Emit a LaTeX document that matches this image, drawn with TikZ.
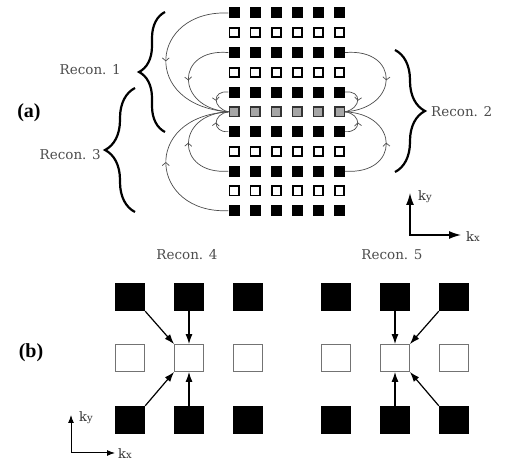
\documentclass[tikz,border=0pt]{standalone}
\usepackage{fontspec}
\newfontfamily\labelfont{DejaVu Serif}
\newfontfamily\tagfont{Liberation Serif}
\usetikzlibrary{arrows.meta}
\usetikzlibrary{decorations.markings,decorations.pathreplacing}
\tikzstyle{blacksq}=[rectangle,fill=black,minimum size=11pt,inner sep=0pt]
\tikzstyle{opensq}=[rectangle,draw=black,fill=white,line width=1.8pt,minimum size=9.2pt,inner sep=0pt]
\tikzstyle{graysq}=[rectangle,draw=black!80,fill=black!35,line width=1.5pt,minimum size=9.5pt,inner sep=0pt]
\tikzstyle{bigblack}=[rectangle,fill=black,minimum width=30pt,minimum height=28pt,inner sep=0pt]
\tikzstyle{bigopen}=[rectangle,draw=black!55,fill=white,line width=0.8pt,minimum width=29pt,minimum height=27pt,inner sep=0pt]
\tikzstyle{flow}=[draw=black!70,line width=0.7pt,postaction={decorate},decoration={markings,mark=at position 0.5 with {\arrow{Straight Barb[length=3pt,width=7pt]}}}]
\tikzstyle{bracket}=[decorate,line width=2.2pt]
\tikzstyle{recon}=[font=\labelfont\fontsize{13.5}{15}\selectfont,text=black!70,inner sep=0pt]
\tikzstyle{klabel}=[font=\labelfont\fontsize{13}{15}\selectfont,text=black!80,inner sep=0pt]
\tikzstyle{tag}=[font=\tagfont\bfseries\fontsize{20}{22}\selectfont,inner sep=0pt]
\tikzstyle{pointer}=[-{Latex[length=10pt,width=7pt]},line width=1.2pt]
\begin{document}
\begin{tikzpicture}[x=1pt,y=-1pt]
\useasboundingbox (0,0) rectangle (507,462);

%Lattice (a)
    \foreach \j/\kind in {0/blacksq,1/opensq,2/blacksq,3/opensq,4/blacksq,5/graysq,6/blacksq,7/opensq,8/blacksq,9/opensq,10/blacksq}
      \foreach \i in {0,...,5}
        \node[\kind] (g-\i-\j) at ({234+21.1*\i},{13+19.77*\j}) {};

  \foreach \src/\ax/\ay/\bx/\by in {0/150/10/140/105, 2/175/48/175/108, 4/212/90/212/108, 6/212/133/212/114, 8/175/175/175/114, 10/150/214/140/117}
          \draw[flow] (g-0-\src.west) .. controls (\ax,\ay) and (\bx,\by) .. (g-0-5.west);
  \foreach \src/\ax/\ay/\bx/\by in {2/400/48/400/108, 4/362/90/362/108, 6/362/133/362/114, 8/400/175/400/114}
          \draw[flow] (g-5-\src.east) .. controls (\ax,\ay) and (\bx,\by) .. (g-5-5.east);

\draw[bracket,decoration={brace,amplitude=26pt}] (165,132) -- (165,12);
\draw[bracket,decoration={brace,amplitude=30pt}] (135,212) -- (135,88);
\draw[bracket,decoration={brace,amplitude=30pt}] (395,50) -- (395,172);
\node[recon,anchor=east] (r1) at (121,70) {Recon. 1};
\node[recon,anchor=east] (r3) at (101,155) {Recon. 3};
\node[recon,anchor=west] (r2) at (431,112) {Recon. 2};
\node[tag] (taga) at (29,113) {(a)};

\coordinate (ao) at (410,235);
\coordinate (ay) at (410,193);
\coordinate (ax) at (461,235);
\draw[{Latex[length=12pt,width=8pt]}-{Latex[length=12pt,width=8pt]},line width=1.3pt] (ay) -- (ao) -- (ax);
\node[klabel,anchor=west] (aky) at (418,197) {k{\fontsize{10}{10}\selectfont y}};
\node[klabel,anchor=west] (akx) at (466,237) {k{\fontsize{10}{10}\selectfont x}};

%Recon. 4
    \def\dx{130};
    \def\grp{4};
    \foreach \i in {0,1,2} {
        \node[bigblack] (p\grp-\i-0) at ({\dx+59*\i},297) {};
        \node[bigopen] (p\grp-\i-1) at ({\dx+59*\i},358) {};
        \node[bigblack] (p\grp-\i-2) at ({\dx+59*\i},420) {};
    }
  \foreach \source/\dest in {p4-0-0.south east/p4-1-1.north west, p4-1-0/p4-1-1, p4-0-2.north east/p4-1-1.south west, p4-1-2/p4-1-1}
          \draw[pointer] (\source) -- (\dest);
\node[recon] (r4) at (187,255) {Recon. 4};

%Recon. 5
    \def\dx{336};
    \def\grp{5};
    \foreach \i in {0,1,2} {
        \node[bigblack] (p\grp-\i-0) at ({\dx+59*\i},297) {};
        \node[bigopen] (p\grp-\i-1) at ({\dx+59*\i},358) {};
        \node[bigblack] (p\grp-\i-2) at ({\dx+59*\i},420) {};
    }
  \foreach \source/\dest in {p5-2-0.south west/p5-1-1.north east, p5-1-0/p5-1-1, p5-2-2.north west/p5-1-1.south east, p5-1-2/p5-1-1}
          \draw[pointer] (\source) -- (\dest);
\node[recon] (r5) at (392,255) {Recon. 5};
\node[tag] (tagb) at (31,353) {(b)};

\coordinate (bo) at (71,453);
\coordinate (by) at (71,415);
\coordinate (bx) at (115,453);
\draw[{Latex[length=8pt,width=6pt]}-{Latex[length=8pt,width=6pt]},line width=1pt] (by) -- (bo) -- (bx);
\node[klabel,anchor=west] (bky) at (79,418) {k{\fontsize{10}{10}\selectfont y}};
\node[klabel,anchor=west] (bkx) at (118,454) {k{\fontsize{10}{10}\selectfont x}};

   \end{tikzpicture}
\end{document}
